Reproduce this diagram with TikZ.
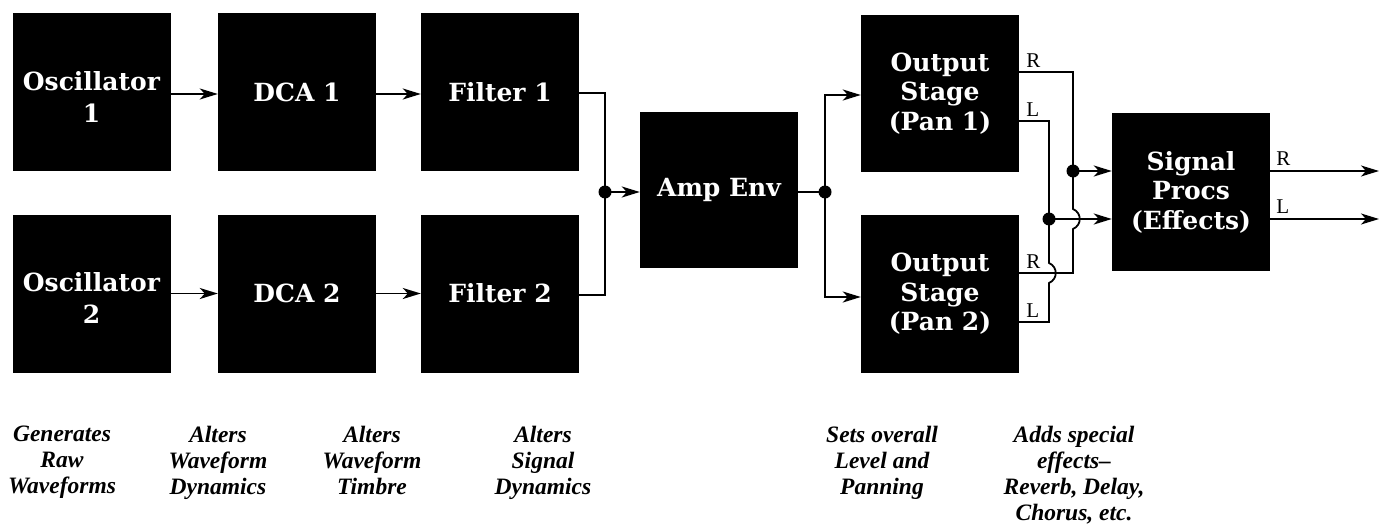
\documentclass[tikz,border=0pt]{standalone}
\usepackage{fontspec}
\setmainfont{Liberation Serif}
\newfontfamily\boxfont{DejaVu Serif}
\usetikzlibrary{arrows.meta,calc}
\begin{document}
\begin{tikzpicture}[x=1pt,y=-1pt,
  blk/.style={fill=black, text=white, minimum width=158pt, minimum height=158pt, inner sep=0pt, align=center, font=\boxfont\bfseries\fontsize{25}{29.5}\selectfont},
  twoline/.style={font=\boxfont\bfseries\fontsize{25}{32}\selectfont, text height=60pt},
  ln/.style={line width=1.8pt},
  arr/.style={line width=1.8pt, -{Stealth[length=18pt,width=11pt,inset=5pt]}},
  jdot/.style={fill=black},
  lbl/.style={inner sep=0pt, anchor=south west, font=\fontsize{21}{22}\selectfont},
  captxt/.style={inner sep=0pt, anchor=north, align=center, font=\bfseries\itshape\fontsize{23.5}{26}\selectfont}]
\useasboundingbox (0,0) rectangle (1380,527);

% boxes
\node[blk, twoline] (osc1) at (91.5,92) {Oscillator\\1};
\node[blk] (dca1) at (297,92) {DCA 1};
\node[blk] (fil1) at (500,92) {Filter 1};
\node[blk, twoline] (osc2) at (91.5,293.5) {Oscillator\\2};
\node[blk] (dca2) at (297,293.5) {DCA 2};
\node[blk] (fil2) at (500,293.5) {Filter 2};
\node[blk, minimum height=156pt] (amp) at (719,190) {Amp Env};
\node[blk, minimum height=157pt] (os1) at (940,93.5) {Output\\Stage\\(Pan 1)};
\node[blk] (os2) at (940,294) {Output\\Stage\\(Pan 2)};
\node[blk] (sp) at (1191,192) {Signal\\Procs\\(Effects)};

% junctions and ends
\coordinate (j1) at (605,192);
\coordinate (j2) at (825,192);
\coordinate (xr) at (1073,171);
\coordinate (xl) at (1049,219);
\coordinate (r1) at ([yshift=21.5pt]os1.east);
\coordinate (l1) at ([yshift=-27.5pt]os1.east);
\coordinate (r2) at ([yshift=21pt]os2.east);
\coordinate (l2) at ([yshift=-28pt]os2.east);
\coordinate (o1) at (1379,171);
\coordinate (o2) at (1379,219);

% connectors
\draw[arr] ([yshift=-2pt]osc1.east) -- ([yshift=-2pt]dca1.west);
\draw[arr] ([yshift=-2pt]dca1.east) -- ([yshift=-2pt]fil1.west);
\draw[arr] (osc2) -- (dca2);
\draw[arr] (dca2) -- (fil2);
\draw[ln] ([yshift=-1pt]fil1.east) -| (j1) |- ([yshift=-1.5pt]fil2.east);
\draw[arr] (j1) -- (j1 -| amp.west);
\draw[ln] (j2 -| amp.east) -- (j2);
\draw[arr] (j2) |- ([yshift=-1.5pt]os1.west);
\draw[arr] (j2) |- ([yshift=-3pt]os2.west);

\draw[ln] (r1) -| (xr) -- ([yshift=10pt]xr |- xl) .. controls +(9,4) and +(9,-4) .. ([yshift=-10pt]xr |- xl) |- (r2);
\draw[ln] (l1) -| (xl) -- ([yshift=10pt]xl |- r2) .. controls +(9,4) and +(9,-4) .. ([yshift=-10pt]xl |- r2) |- (l2);
\draw[arr] (xr) -- (xr -| sp.west);
\draw[arr] (xl) -- (xl -| sp.west);
\draw[arr] (o1 -| sp.east) -- (o1);
\draw[arr] (o2 -| sp.east) -- (o2);

\fill[jdot] (j1) circle (6.5pt);
\fill[jdot] (j2) circle (6.5pt);
\fill[jdot] (xr) circle (6.5pt);
\fill[jdot] (xl) circle (6.5pt);

% channel labels
\node[lbl] (lr1) at ([shift={(7pt,4pt)}]r1) {R};
\node[lbl] (ll1) at ([shift={(7pt,4pt)}]l1) {L};
\node[lbl] (lr2) at ([shift={(7pt,4pt)}]r2) {R};
\node[lbl] (ll2) at ([shift={(7pt,4pt)}]l2) {L};
\node[lbl] (lro) at ([shift={(6pt,5pt)}]o1 -| sp.east) {R};
\node[lbl] (llo) at ([shift={(6pt,5pt)}]o2 -| sp.east) {L};

% captions
\node[captxt] (c1) at (62,426) {Generates\\Raw\\Waveforms};
\node[captxt] (c2) at (218,426) {Alters\\Waveform\\Dynamics};
\node[captxt] (c3) at (372,426) {Alters\\Waveform\\Timbre};
\node[captxt] (c4) at (543,426) {Alters\\Signal\\Dynamics};
\node[captxt] (c5) at (882,426) {Sets overall\\Level and\\Panning};
\node[captxt] (c6) at (1074,426) {Adds special\\effects--\\Reverb, Delay,\\Chorus, etc.};
\end{tikzpicture}
\end{document}
